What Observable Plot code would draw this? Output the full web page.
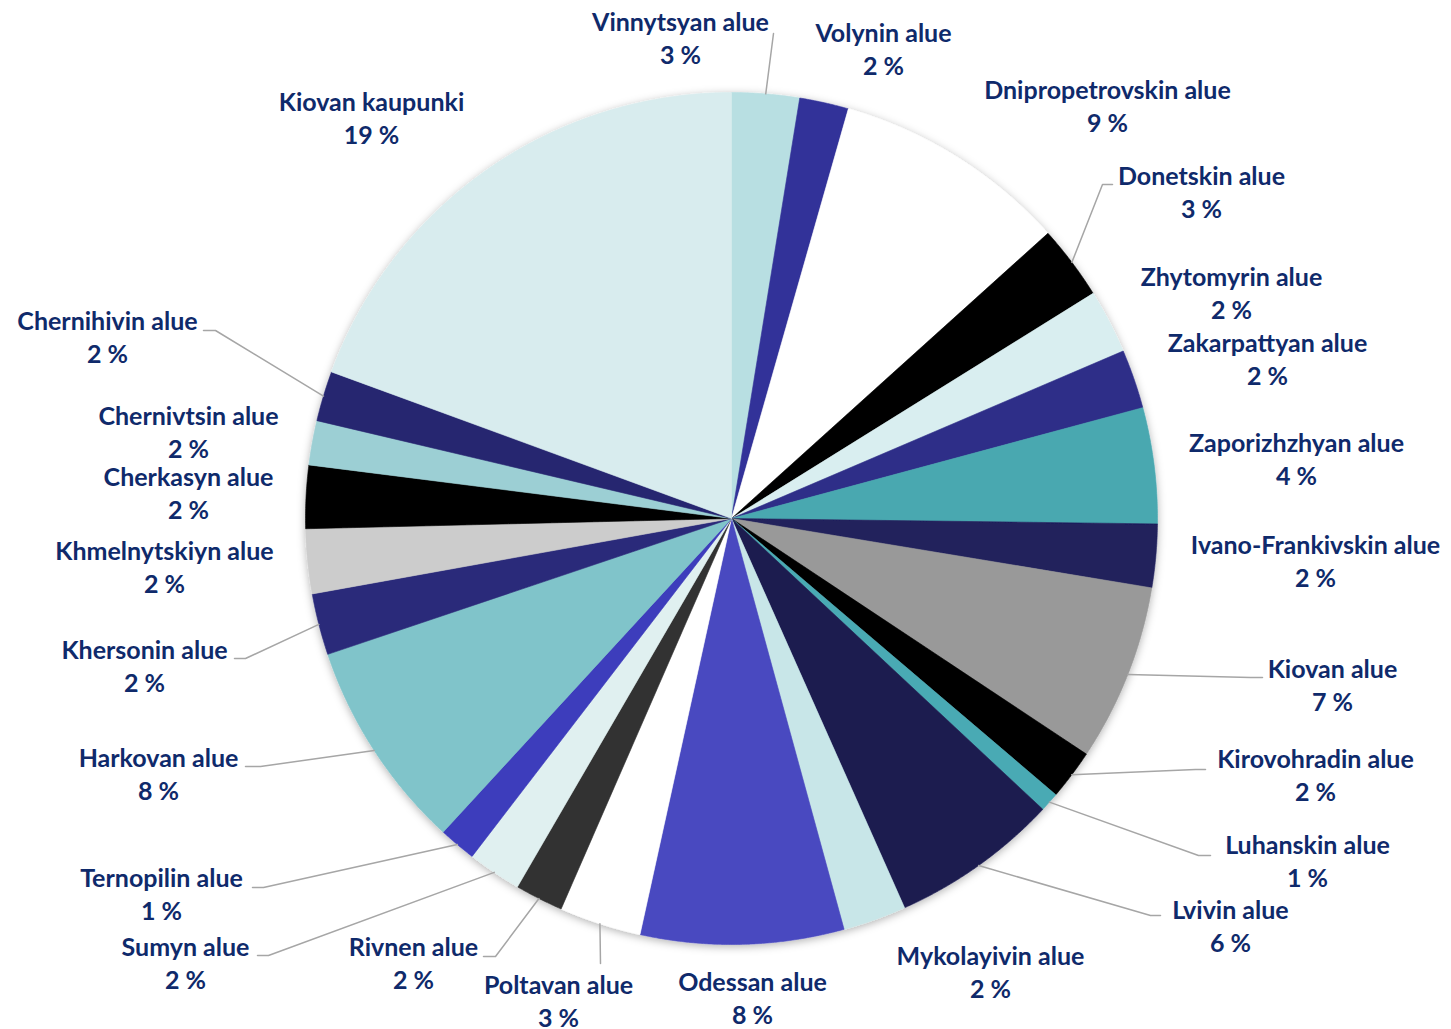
<!DOCTYPE html>
<html>
<head>
<meta charset="utf-8">
<script src="https://cdn.jsdelivr.net/npm/d3@7"></script>
<script src="https://cdn.jsdelivr.net/npm/@observablehq/plot@0.6"></script>
<style>
  html, body { margin: 0; padding: 0; background: #ffffff; }
  #chart svg { display: block; }
</style>
</head>
<body>
<div id="chart"></div>
<script>
// ---- data (clockwise from 12 o'clock) ----
const regions = [
  "Vinnytsyan alue", "Volynin alue", "Dnipropetrovskin alue", "Donetskin alue",
  "Zhytomyrin alue", "Zakarpattyan alue", "Zaporizhzhyan alue", "Ivano-Frankivskin alue",
  "Kiovan alue", "Kirovohradin alue", "Luhanskin alue", "Lvivin alue",
  "Mykolayivin alue", "Odessan alue", "Poltavan alue", "Rivnen alue",
  "Sumyn alue", "Ternopilin alue", "Harkovan alue", "Khersonin alue",
  "Khmelnytskiyn alue", "Cherkasyn alue", "Chernivtsin alue", "Chernihivin alue",
  "Kiovan kaupunki"
];
const shares = [
  2.56, 1.86, 8.9, 2.81,
  2.43, 2.24, 4.39, 2.4,
  6.72, 1.9, 0.73, 6.38,
  2.4, 7.7, 3.1, 1.83,
  2.04, 1.41, 8.0, 2.33,
  2.45, 2.39, 1.68, 1.9,
  19.4
];

// ---- styles ----
const palette = [
  "#b8dfe2", "#333399", "#ffffff", "#000000",
  "#d9eef0", "#2e2e88", "#48a8b0", "#20205c",
  "#999999", "#000000", "#4aaab4", "#1c1c50",
  "#c8e6e8", "#4848c0", "#ffffff", "#333333",
  "#e0f0f0", "#3c3cbc", "#80c4ca", "#2a2a7a",
  "#cccccc", "#000000", "#9ccfd4", "#252570",
  "#d8ecee"
];

// ---- annotation layout (pixels): label centres and leader-line bends ----
const labelAnchors = [
  [680, 36], [883, 47.5], [1107, 104.5], [1201, 190.5],
  [1231, 291.5], [1267, 357.5], [1296, 457], [1315, 559.5],
  [1332, 683], [1315, 773.5], [1307, 859.5], [1230, 924],
  [990, 970.5], [752, 996], [558, 999], [413, 961.5],
  [185, 961.5], [161, 892.5], [158, 772], [144, 664.5],
  [164, 565.5], [188, 491.5], [188, 430.5], [107, 335],
  [371, 116.5]
];
const leaderBends = [
  [[773, 33]], null, null, [[1102, 184], [1112, 184]],
  null, null, null, null,
  [[1250, 677], [1262, 677]], [[1195, 769], [1205, 769]], [[1198, 855], [1210, 855]], [[1150, 915], [1160, 915]],
  null, null, [[600, 963]], [[495, 956], [483, 956]],
  [[268, 955], [257, 955]], [[263, 887], [252, 887]], [[260, 766], [245, 766]], [[245, 658], [234, 658]],
  null, null, null, [[215, 330], [203, 330]],
  null
];

const W = 1451, H = 1029, CX = 731, CY = 518, R = 426;
const toX = px => (px - CX) / R;
const toY = py => (CY - py) / R;

const total = d3.sum(shares);
const arcs = d3.pie().sort(null).value(d => d)(shares);

// slice polygons in unit-circle coordinates
const slicePts = [];
arcs.forEach((a, i) => {
  const n = Math.max(4, Math.ceil((a.endAngle - a.startAngle) / 0.004));
  slicePts.push({name: regions[i], color: palette[i], x: 0, y: 0});
  for (let k = 0; k <= n; k++) {
    const t = a.startAngle + (a.endAngle - a.startAngle) * k / n;
    slicePts.push({name: regions[i], color: palette[i], x: Math.sin(t), y: Math.cos(t)});
  }
  slicePts.push({name: regions[i], color: palette[i], x: 0, y: 0});
});

// labels
const labels = regions.map((name, i) => ({
  x: toX(labelAnchors[i][0]),
  y: toY(labelAnchors[i][1]),
  text: name + "\n" + Math.round(shares[i] / total * 100) + " %"
}));

// leader lines
const leaderPts = [];
arcs.forEach((a, i) => {
  const bends = leaderBends[i];
  if (!bends) return;
  const mid = (a.startAngle + a.endAngle) / 2;
  leaderPts.push({name: regions[i], x: Math.sin(mid), y: Math.cos(mid)});
  bends.forEach(p => leaderPts.push({name: regions[i], x: toX(p[0]), y: toY(p[1])}));
});

const chart = Plot.plot({
  width: W,
  height: H,
  margin: 0,
  x: {domain: [toX(0), toX(W)], axis: null},
  y: {domain: [toY(H), toY(0)], axis: null},
  color: {type: "identity"},
  marks: [
    Plot.line(slicePts, {
      x: "x", y: "y", z: "name", fill: "color", stroke: "color",
      strokeWidth: 0.6, strokeLinejoin: "round"
    }),
    Plot.line(leaderPts, {
      x: "x", y: "y", z: "name", stroke: "#a6a6a6", strokeWidth: 1.5
    }),
    Plot.text(labels, {
      x: "x", y: "y", text: "text", fill: "#0f2a6b",
      fontSize: 25, fontWeight: "bold", fontFamily: "Lato, 'Open Sans', sans-serif",
      lineHeight: 1.32, textAnchor: "middle"
    })
  ]
});

// soft shadow around the pie
const svg = d3.select(chart);
const defs = svg.insert("defs", ":first-child");
const f = defs.append("filter").attr("id", "pieShadow")
  .attr("x", "-10%").attr("y", "-10%").attr("width", "120%").attr("height", "120%");
f.append("feDropShadow").attr("dx", 0).attr("dy", 2).attr("stdDeviation", 4)
  .attr("flood-color", "#000").attr("flood-opacity", 0.3);
const pieGroup = svg.selectAll('g[aria-label="line"]').nodes()[0];
if (pieGroup) pieGroup.setAttribute("filter", "url(#pieShadow)");

document.getElementById("chart").appendChild(chart);
</script>
</body>
</html>
